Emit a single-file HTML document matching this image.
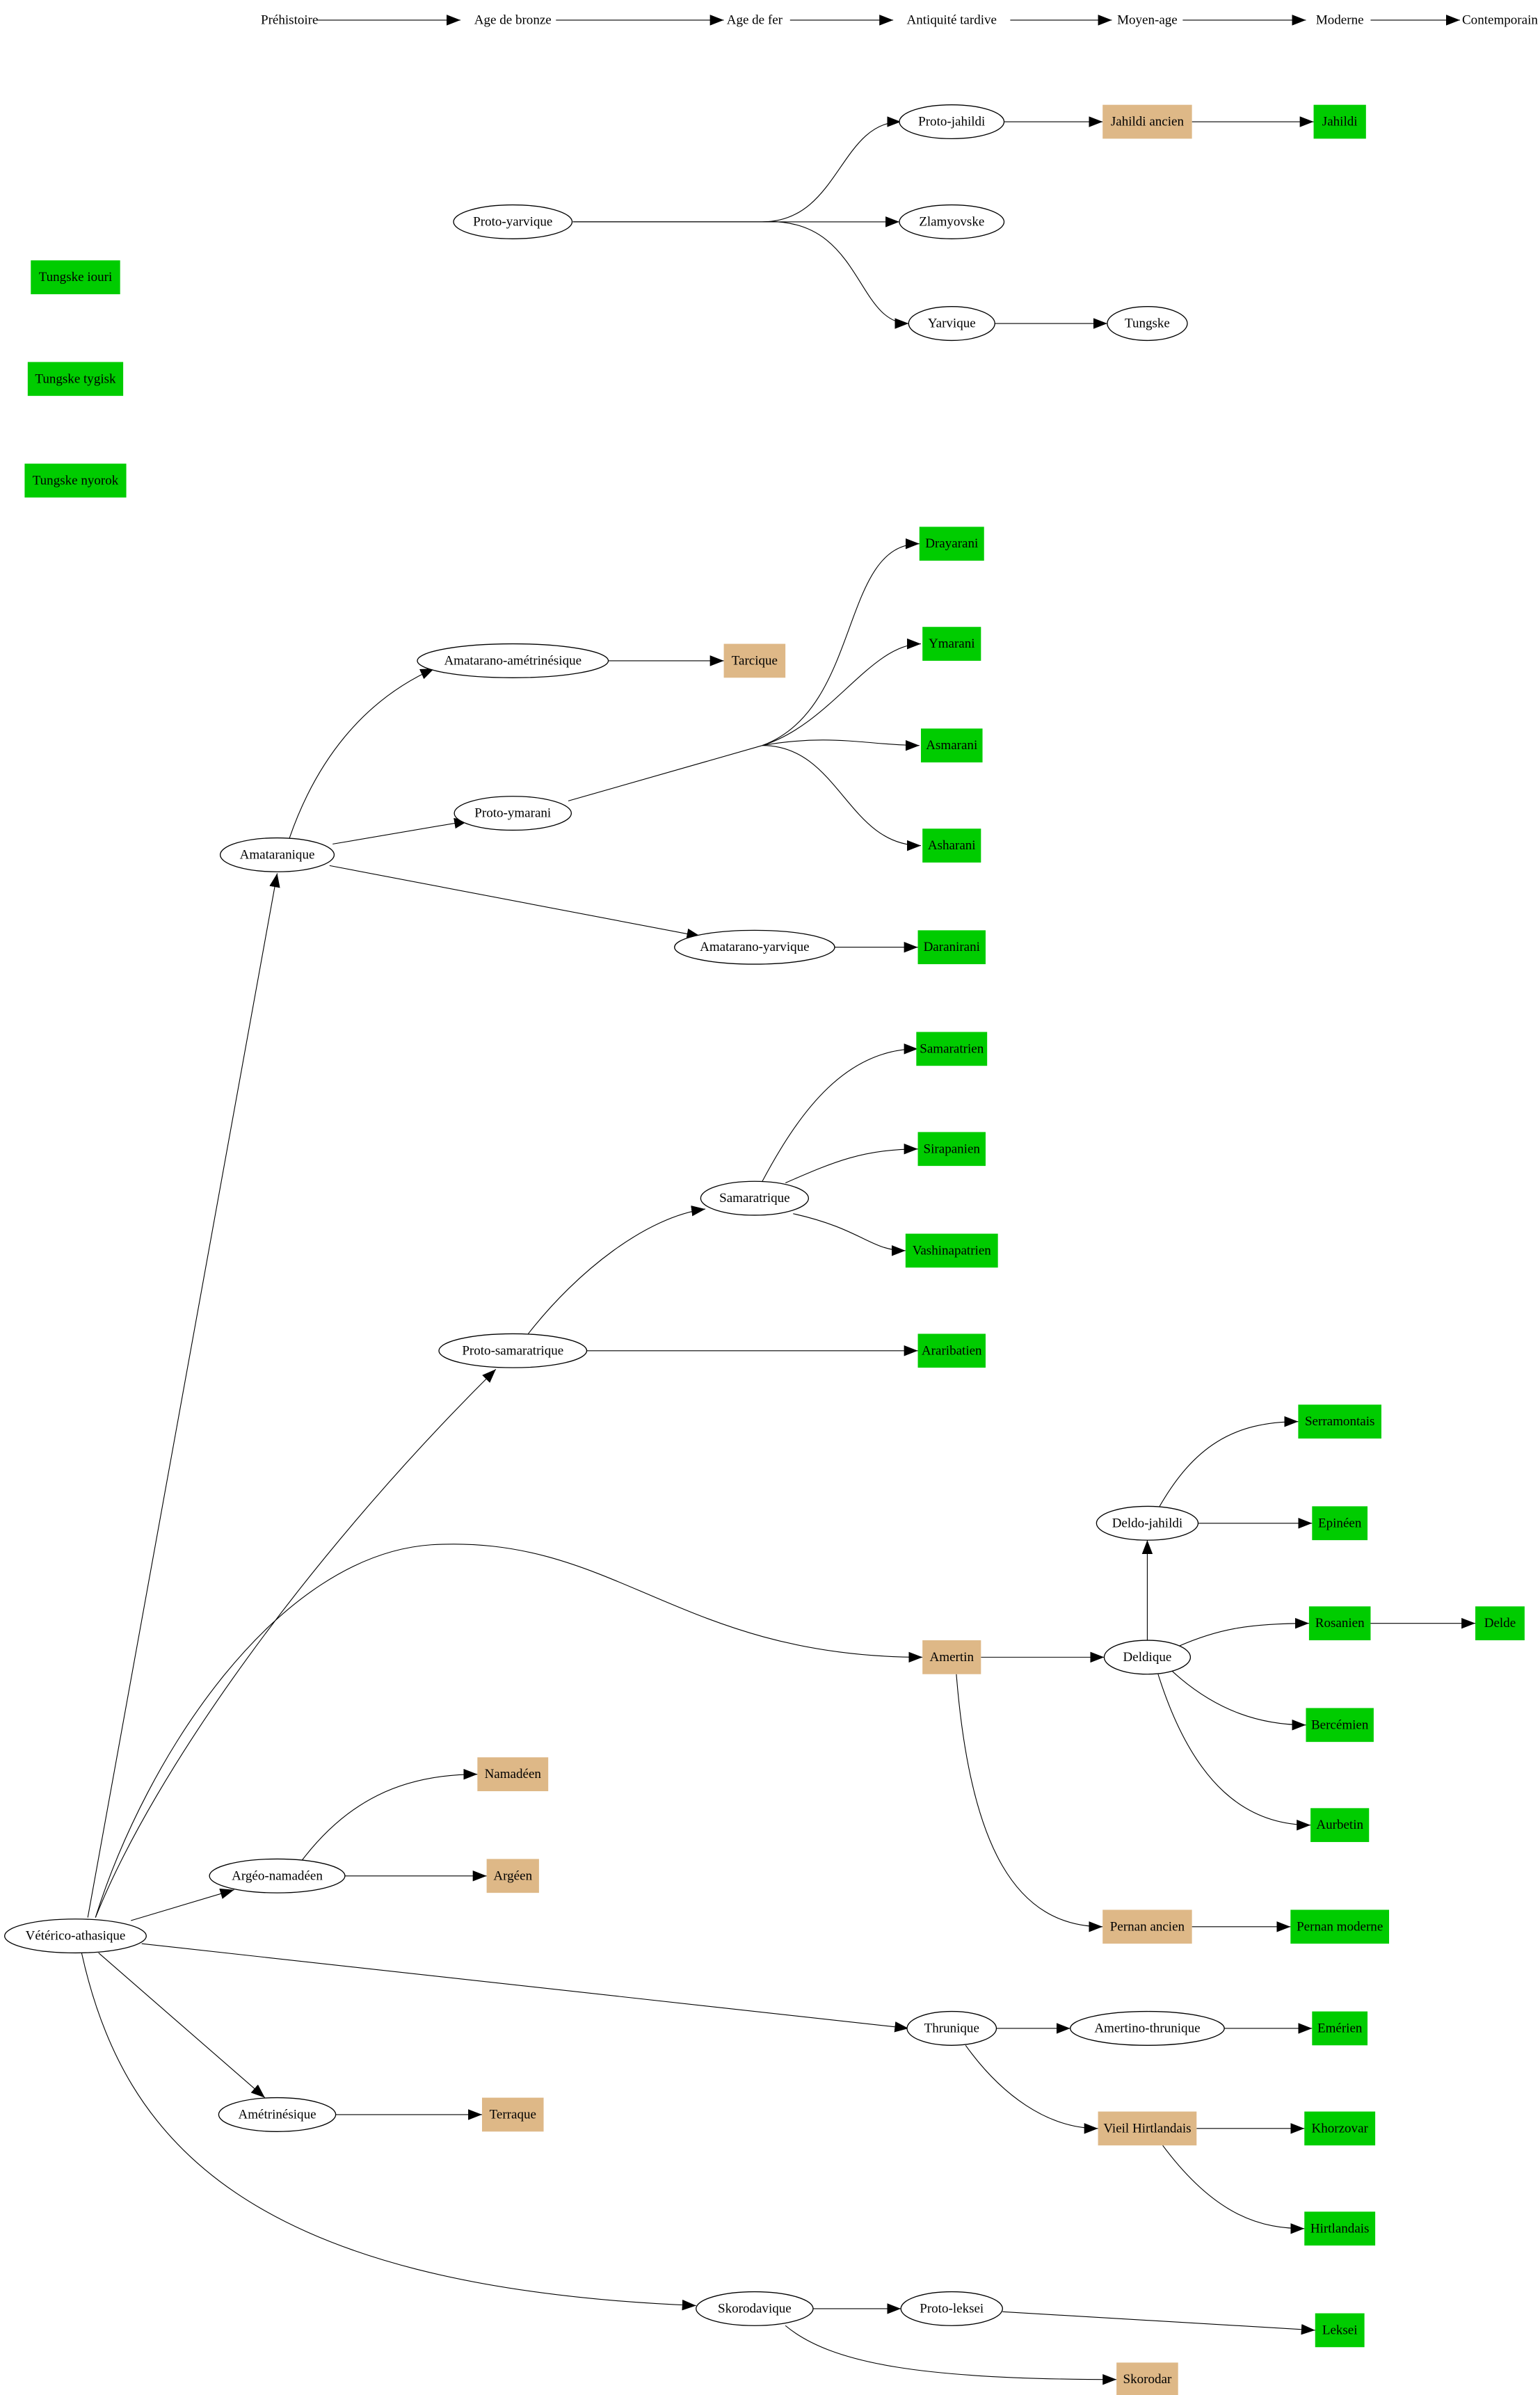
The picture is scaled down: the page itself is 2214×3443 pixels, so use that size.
<!DOCTYPE html>
<html><head><meta charset="utf-8"><style>
html,body{margin:0;padding:0;background:#fff;}
svg{display:block;}
text{font-family:"Liberation Serif","Times New Roman",serif;font-size:8.6px;text-anchor:middle;dominant-baseline:central;fill:#000;}
.e{fill:#fff;stroke:#000;stroke-width:0.6;}
.g{fill:#00cc00;}
.t{fill:#deb887;}
path{fill:none;stroke:#000;stroke-width:0.5;marker-end:url(#a);}
</style></head><body>
<svg width="2214" height="3443" viewBox="0 0 1000 1555" xmlns="http://www.w3.org/2000/svg">
<defs><marker id="a" markerUnits="userSpaceOnUse" markerWidth="9" markerHeight="7" refX="9" refY="3.5" orient="auto"><polygon points="0,0 9,3.5 0,7" fill="#000"/></marker></defs>

<!-- timeline -->
<text x="188" y="13">Préhistoire</text>
<text x="333" y="13">Age de bronze</text>
<text x="490" y="13">Age de fer</text>
<text x="618" y="13">Antiquité tardive</text>
<text x="745" y="13">Moyen-age</text>
<text x="870" y="13">Moderne</text>
<text x="974" y="13">Contemporain</text>
<path d="M206,13 L299,13"/>
<path d="M361,13 L470,13"/>
<path d="M513,13 L580,13"/>
<path d="M656,13 L722,13"/>
<path d="M768,13 L848,13"/>
<path d="M890,13 L948,13"/>

<!-- edges -->
<path d="M372,144 L495,144 C545,144 545,79 585,79"/>
<path d="M372,144 L584,144"/>
<path d="M372,144 L495,144 C560,140 555,210 590,210"/>
<path d="M652,79 L716,79"/>
<path d="M774,79 L853,79"/>
<path d="M646,210 L719,210"/>
<path d="M188,544 C205,495 235,455 282,434"/>
<path d="M216,548 L304,533"/>
<path d="M214,562 L455,608"/>
<path d="M395,429 L470,429"/>
<path d="M369,520 L495,484 C560,460 545,353 597,353"/>
<path d="M495,484 C540,470 565,418 598,418"/>
<path d="M495,484 C540,476 565,484 597,484"/>
<path d="M495,484 C545,484 550,549 598,549"/>
<path d="M542,615 L596,615"/>
<path d="M57,1245 L180,567"/>
<path d="M62,1245 C100,1150 200,1010 322,889"/>
<path d="M62,1245 C95,1140 180,1010 280,1003 C400,996 440,1076 599,1076"/>
<path d="M85,1247 L152,1227"/>
<path d="M92,1262 L590,1317"/>
<path d="M64,1268 L172,1362"/>
<path d="M53,1268 C80,1390 160,1485 452,1497"/>
<path d="M196,1208 C225,1170 260,1152 310,1152"/>
<path d="M224,1218 L316,1218"/>
<path d="M218,1373 L313,1373"/>
<path d="M343,866 C375,825 420,790 458,785"/>
<path d="M381,877 L596,877"/>
<path d="M495,767 C520,720 550,681 596,681"/>
<path d="M510,768 C540,755 560,746 596,746"/>
<path d="M515,788 C560,798 565,812 588,812"/>
<path d="M637,1076 L717,1076"/>
<path d="M621,1087 C630,1200 660,1251 716,1251"/>
<path d="M745,1065 L745,1000"/>
<path d="M753,978 C775,940 800,923 843,923"/>
<path d="M778,989 L852,989"/>
<path d="M765,1069 C790,1058 810,1054 850,1054"/>
<path d="M760,1084 C790,1112 820,1120 848,1120"/>
<path d="M752,1087 C775,1160 810,1185 851,1185"/>
<path d="M890,1054 L958,1054"/>
<path d="M774,1251 L838,1251"/>
<path d="M647,1317 L695,1317"/>
<path d="M795,1317 L852,1317"/>
<path d="M627,1328 C650,1360 680,1382 713,1382"/>
<path d="M777,1382 L847,1382"/>
<path d="M755,1393 C790,1440 820,1447 847,1447"/>
<path d="M528,1499 L585,1499"/>
<path d="M651,1501 L854,1513"/>
<path d="M510,1510 C540,1535 600,1545 725,1545"/>

<!-- ellipses -->
<ellipse class="e" cx="333" cy="144" rx="38.5" ry="11"/><text x="333" y="144">Proto-yarvique</text>
<ellipse class="e" cx="618" cy="79" rx="34" ry="11"/><text x="618" y="79">Proto-jahildi</text>
<ellipse class="e" cx="618" cy="144" rx="34" ry="11"/><text x="618" y="144">Zlamyovske</text>
<ellipse class="e" cx="618" cy="210" rx="28" ry="11"/><text x="618" y="210">Yarvique</text>
<ellipse class="e" cx="745" cy="210" rx="26" ry="11"/><text x="745" y="210">Tungske</text>
<ellipse class="e" cx="333" cy="429" rx="62" ry="11"/><text x="333" y="429">Amatarano-amétrinésique</text>
<ellipse class="e" cx="333" cy="528" rx="38" ry="11"/><text x="333" y="528">Proto-ymarani</text>
<ellipse class="e" cx="180" cy="555" rx="37" ry="11"/><text x="180" y="555">Amataranique</text>
<ellipse class="e" cx="490" cy="615" rx="52" ry="11"/><text x="490" y="615">Amatarano-yarvique</text>
<ellipse class="e" cx="490" cy="778" rx="35" ry="11"/><text x="490" y="778">Samaratrique</text>
<ellipse class="e" cx="333" cy="877" rx="48" ry="11"/><text x="333" y="877">Proto-samaratrique</text>
<ellipse class="e" cx="745" cy="989" rx="33" ry="11"/><text x="745" y="989">Deldo-jahildi</text>
<ellipse class="e" cx="745" cy="1076" rx="28" ry="11"/><text x="745" y="1076">Deldique</text>
<ellipse class="e" cx="180" cy="1218" rx="44" ry="11"/><text x="180" y="1218">Argéo-namadéen</text>
<ellipse class="e" cx="49" cy="1257" rx="46" ry="11"/><text x="49" y="1257">Vétérico-athasique</text>
<ellipse class="e" cx="618" cy="1317" rx="29" ry="11"/><text x="618" y="1317">Thrunique</text>
<ellipse class="e" cx="745" cy="1317" rx="50" ry="11"/><text x="745" y="1317">Amertino-thrunique</text>
<ellipse class="e" cx="180" cy="1373" rx="38" ry="11"/><text x="180" y="1373">Amétrinésique</text>
<ellipse class="e" cx="490" cy="1499" rx="38" ry="11"/><text x="490" y="1499">Skorodavique</text>
<ellipse class="e" cx="618" cy="1499" rx="33" ry="11"/><text x="618" y="1499">Proto-leksei</text>

<!-- boxes -->
<rect class="t" x="716" y="68" width="58" height="22"/><text x="745" y="79">Jahildi ancien</text>
<rect class="g" x="853" y="68" width="34" height="22"/><text x="870" y="79">Jahildi</text>
<rect class="g" x="20" y="169" width="58" height="22"/><text x="49" y="180">Tungske iouri</text>
<rect class="g" x="18" y="235" width="62" height="22"/><text x="49" y="246">Tungske tygisk</text>
<rect class="g" x="16" y="301" width="66" height="22"/><text x="49" y="312">Tungske nyorok</text>
<rect class="t" x="470" y="418" width="40" height="22"/><text x="490" y="429">Tarcique</text>
<rect class="g" x="597" y="342" width="42" height="22"/><text x="618" y="353">Drayarani</text>
<rect class="g" x="599" y="407" width="38" height="22"/><text x="618" y="418">Ymarani</text>
<rect class="g" x="598" y="473" width="40" height="22"/><text x="618" y="484">Asmarani</text>
<rect class="g" x="599" y="538" width="38" height="22"/><text x="618" y="549">Asharani</text>
<rect class="g" x="596" y="604" width="44" height="22"/><text x="618" y="615">Daranirani</text>
<rect class="g" x="595" y="670" width="46" height="22"/><text x="618" y="681">Samaratrien</text>
<rect class="g" x="596" y="735" width="44" height="22"/><text x="618" y="746">Sirapanien</text>
<rect class="g" x="588" y="801" width="60" height="22"/><text x="618" y="812">Vashinapatrien</text>
<rect class="g" x="596" y="866" width="44" height="22"/><text x="618" y="877">Araribatien</text>
<rect class="g" x="843" y="912" width="54" height="22"/><text x="870" y="923">Serramontais</text>
<rect class="g" x="852" y="978" width="36" height="22"/><text x="870" y="989">Epinéen</text>
<rect class="t" x="599" y="1065" width="38" height="22"/><text x="618" y="1076">Amertin</text>
<rect class="g" x="850" y="1043" width="40" height="22"/><text x="870" y="1054">Rosanien</text>
<rect class="g" x="958" y="1043" width="32" height="22"/><text x="974" y="1054">Delde</text>
<rect class="g" x="848" y="1109" width="44" height="22"/><text x="870" y="1120">Bercémien</text>
<rect class="g" x="851" y="1174" width="38" height="22"/><text x="870" y="1185">Aurbetin</text>
<rect class="t" x="310" y="1141" width="46" height="22"/><text x="333" y="1152">Namadéen</text>
<rect class="t" x="316" y="1207" width="34" height="22"/><text x="333" y="1218">Argéen</text>
<rect class="t" x="716" y="1240" width="58" height="22"/><text x="745" y="1251">Pernan ancien</text>
<rect class="g" x="838" y="1240" width="64" height="22"/><text x="870" y="1251">Pernan moderne</text>
<rect class="g" x="852" y="1306" width="36" height="22"/><text x="870" y="1317">Emérien</text>
<rect class="t" x="313" y="1362" width="40" height="22"/><text x="333" y="1373">Terraque</text>
<rect class="t" x="713" y="1371" width="64" height="22"/><text x="745" y="1382">Vieil Hirtlandais</text>
<rect class="g" x="847" y="1371" width="46" height="22"/><text x="870" y="1382">Khorzovar</text>
<rect class="g" x="847" y="1436" width="46" height="22"/><text x="870" y="1447">Hirtlandais</text>
<rect class="g" x="854" y="1502" width="32" height="22"/><text x="870" y="1513">Leksei</text>
<rect class="t" x="725" y="1534" width="40" height="22"/><text x="745" y="1545">Skorodar</text>
</svg>
</body></html>
